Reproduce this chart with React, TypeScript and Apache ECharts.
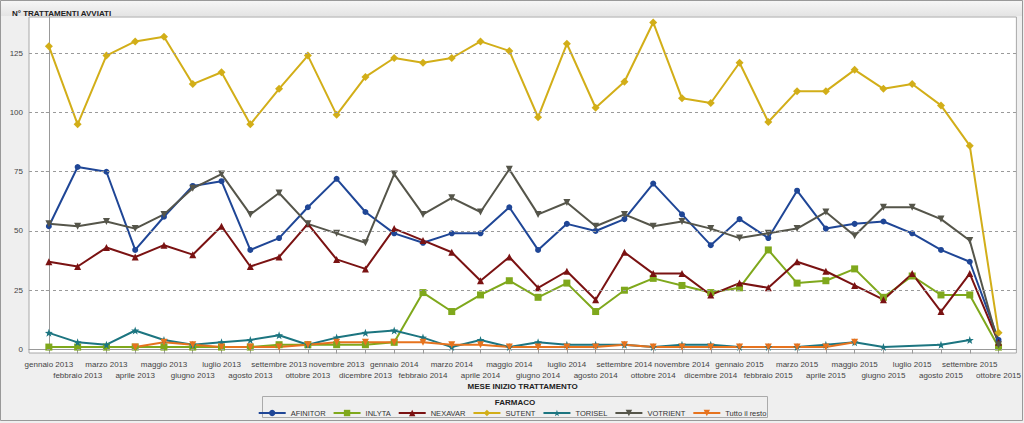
import React, { useEffect, useRef } from "react";
import * as echarts from "echarts";

const months = [
  "gennaio 2013", "febbraio 2013", "marzo 2013", "aprile 2013", "maggio 2013", "giugno 2013",
  "luglio 2013", "agosto 2013", "settembre 2013", "ottobre 2013", "novembre 2013", "dicembre 2013",
  "gennaio 2014", "febbraio 2014", "marzo 2014", "aprile 2014", "maggio 2014", "giugno 2014",
  "luglio 2014", "agosto 2014", "settembre 2014", "ottobre 2014", "novembre 2014", "dicembre 2014",
  "gennaio 2015", "febbraio 2015", "marzo 2015", "aprile 2015", "maggio 2015", "giugno 2015",
  "luglio 2015", "agosto 2015", "settembre 2015", "ottobre 2015",
];

const yTicks = [0, 25, 50, 75, 100, 125];

const afinitor = [52, 77, 75, 42, 56, 69, 71, 42, 47, 60, 72, 58, 49, 45, 49, 49, 60, 42, 53, 50, 55, 70, 57, 44, 55, 47, 67, 51, 53, 54, 49, 42, 37, 4];
const inlyta = [1, 1, 1, 1, 1, 1, 1, 1, 2, 2, 2, 2, 3, 24, 16, 23, 29, 22, 28, 16, 25, 30, 27, 24, 26, 42, 28, 29, 34, 22, 31, 23, 23, 1];
const nexavar = [37, 35, 43, 39, 44, 40, 52, 35, 39, 53, 38, 34, 51, 46, 41, 29, 39, 26, 33, 21, 41, 32, 32, 23, 28, 26, 37, 33, 27, 21, 32, 16, 32, 3];
const sutent = [128, 95, 124, 130, 132, 112, 117, 95, 110, 124, 99, 115, 123, 121, 123, 130, 126, 98, 129, 102, 113, 138, 106, 104, 121, 96, 109, 109, 118, 110, 112, 103, 86, 7];
const torisel = [7, 3, 2, 8, 4, 2, 3, 4, 6, 2, 5, 7, 8, 5, 1, 4, 1, 3, 2, 2, 2, 1, 2, 2, 1, 1, 1, 2, 3, 1, null, 2, 4, null];
const votrient = [53, 52, 54, 51, 57, 68, 74, 57, 66, 53, 49, 45, 74, 57, 64, 58, 76, 57, 62, 52, 57, 52, 54, 51, 47, 49, 51, 58, 48, 60, 60, 55, 46, 2];
const tuttoIlResto = [null, null, null, 1, 3, 2, 1, 1, 1, 2, 3, 3, 3, 3, 2, 2, 1, 1, 1, 1, 2, 1, 1, 1, 1, 1, 1, 1, 3, null, null, null, null, null];

const STAR = "path://M0,-10 L2.35,-3.24 L9.51,-3.09 L3.8,1.24 L5.88,8.09 L0,4 L-5.88,8.09 L-3.8,1.24 L-9.51,-3.09 L-2.35,-3.24 Z";

const seriesDefs = [
  { name: "AFINITOR", data: afinitor, color: "#1f4696", symbol: "circle", size: 6, rotate: 0 },
  { name: "INLYTA", data: inlyta, color: "#7fa81c", symbol: "rect", size: 7, rotate: 0 },
  { name: "NEXAVAR", data: nexavar, color: "#7a1212", symbol: "triangle", size: 7, rotate: 0 },
  { name: "SUTENT", data: sutent, color: "#d2ae18", symbol: "diamond", size: 8, rotate: 0 },
  { name: "TORISEL", data: torisel, color: "#1c7580", symbol: STAR, size: 8, rotate: 0 },
  { name: "VOTRIENT", data: votrient, color: "#55554a", symbol: "triangle", size: 7, rotate: 180 },
  { name: "Tutto il resto", data: tuttoIlResto, color: "#e6731e", symbol: "triangle", size: 7, rotate: 180 },
];

const FONT = "'Liberation Sans', Arial, sans-serif";
const X_MIN = -0.69;
const X_MAX = 33.62;

export default function App() {
  const ref = useRef<HTMLDivElement>(null);

  useEffect(() => {
    if (!ref.current) return;
    const chart = echarts.init(ref.current, null, { renderer: "svg" });
    const idx = months.map((_, i) => i);
    const evenIdx = idx.filter((i) => i % 2 === 0);
    const oddIdx = idx.filter((i) => i % 2 === 1);

    const labelBase = {
      showMinLabel: true,
      showMaxLabel: true,
      hideOverlap: false,
      fontSize: 8,
      color: "#444",
      lineHeight: 11,
      fontFamily: FONT,
      formatter: (v: number) => months[Math.round(v)],
    };

    const series: any[] = [
      {
        name: "__grid",
        type: "line",
        z: 1,
        silent: true,
        data: months.map((_, i) => [i, null]),
        markLine: {
          silent: true,
          symbol: "none",
          label: { show: false },
          lineStyle: { type: [3, 3], color: "#9a9a9a", width: 1 },
          data: yTicks.map((v) => ({ yAxis: v })),
        },
      },
      ...seriesDefs.map((s) => ({
        name: s.name,
        type: "line",
        data: s.data.map((v, i) => [i, v]),
        connectNulls: true,
        symbol: s.symbol,
        symbolSize: s.size,
        symbolRotate: s.rotate,
        showSymbol: true,
        color: s.color,
        lineStyle: { width: 2, color: s.color },
        itemStyle: { color: s.color },
        z: 3,
      })),
    ];

    chart.setOption({
      animation: false,
      backgroundColor: "#efefef",
      textStyle: { fontFamily: FONT },
      title: {
        text: "N° TRATTAMENTI AVVIATI",
        left: 7,
        top: 4,
        textStyle: { fontSize: 8, fontWeight: "bold", color: "#222", fontFamily: FONT },
      },
      grid: {
        left: 29,
        right: 2,
        top: 17,
        bottom: 70,
        show: true,
        backgroundColor: "#ffffff",
        borderColor: "#a8a8a8",
        borderWidth: 1,
      },
      xAxis: [
        {
          type: "value",
          position: "bottom",
          min: X_MIN,
          max: X_MAX,
          name: "MESE INIZIO TRATTAMENTO",
          nameLocation: "middle",
          nameGap: 29,
          nameTextStyle: { fontSize: 8, fontWeight: "bold", color: "#222", fontFamily: FONT },
          splitLine: { show: false },
          axisLine: { show: true, lineStyle: { color: "#999" } },
          axisTick: { show: true, customValues: idx, length: 4, lineStyle: { color: "#999" } },
          axisLabel: { ...labelBase, customValues: evenIdx, margin: 6 },
        },
        {
          type: "value",
          position: "bottom",
          offset: 0,
          min: X_MIN,
          max: X_MAX,
          splitLine: { show: false },
          axisLine: { show: false },
          axisTick: { show: false },
          axisLabel: { ...labelBase, customValues: oddIdx, margin: 17 },
        },
      ],
      yAxis: {
        type: "value",
        min: -1.5,
        max: 140.3,
        splitLine: { show: false },
        axisLine: { show: true, lineStyle: { color: "#999" } },
        axisTick: { show: true, customValues: yTicks, length: 3, lineStyle: { color: "#999" } },
        axisLabel: { customValues: yTicks, fontSize: 8, color: "#444", margin: 6, fontFamily: FONT },
      },
      legend: {
        data: seriesDefs.map((s) => s.name),
        left: "center",
        top: 404,
        itemWidth: 27,
        itemHeight: 8,
        itemGap: 7,
        textStyle: { fontSize: 7.5, color: "#333", fontFamily: FONT },
      },
      graphic: [
        {
          type: "rect",
          z: -10,
          shape: { x: 1, y: 1, width: 1021, height: 15 },
          style: {
            fill: new echarts.graphic.LinearGradient(0, 0, 0, 1, [
              { offset: 0, color: "#f6f6f6" },
              { offset: 1, color: "#e4e4e4" },
            ]),
          },
          silent: true,
        },
        {
          type: "rect",
          shape: { x: 262.5, y: 396.5, width: 505, height: 21 },
          style: { fill: "none", stroke: "#aaa", lineWidth: 1 },
          silent: true,
        },
        {
          type: "text",
          x: 515,
          y: 402,
          style: {
            text: "FARMACO",
            font: "bold 8px " + FONT,
            fill: "#222",
            textAlign: "center",
            textVerticalAlign: "middle",
          },
          silent: true,
        },
        {
          type: "rect",
          shape: { x: 0.5, y: 0.5, width: 1022, height: 420 },
          style: { fill: "none", stroke: "#999", lineWidth: 1 },
          silent: true,
        },
      ],
      series,
    });

    return () => chart.dispose();
  }, []);

  return (
    <div
      ref={ref}
      style={{ position: "fixed", left: 0, top: 0, width: 1024, height: 423 }}
    />
  );
}
